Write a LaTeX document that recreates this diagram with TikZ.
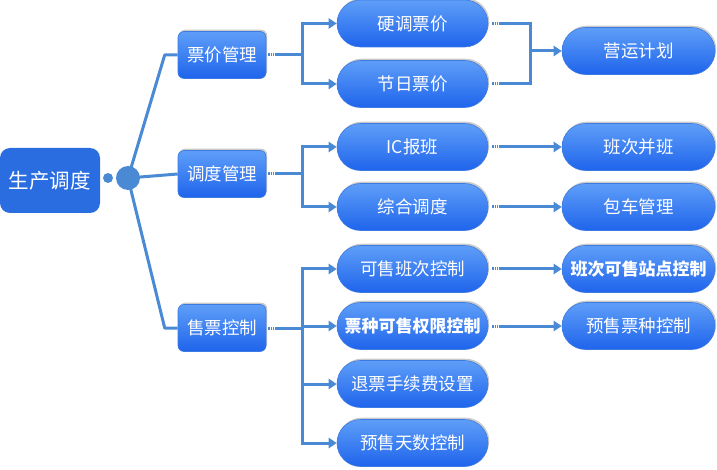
\documentclass[tikz,border=0pt]{standalone}
\usepackage{fontspec}
\newfontfamily\cjk{Noto Sans CJK SC}
\usetikzlibrary{shapes.misc,shadows,arrows.meta,calc}
\definecolor{lineblue}{HTML}{4A8AD4}
\definecolor{pilltop}{HTML}{5E9EF8}
\definecolor{pillbot}{HTML}{1F64EC}
\definecolor{pilledge}{HTML}{3C7BE0}
\definecolor{rootblue}{HTML}{2A6DE0}
\tikzset{
  boxshadow/.style={drop shadow={shadow xshift=1.2,shadow yshift=-1.8,opacity=0.35,fill=black!60}},
  pill/.style={rounded rectangle, minimum width=151, minimum height=47, inner sep=0,
    top color=pilltop, bottom color=pillbot, draw=pilledge, line width=0.6,
    text=white, font=\cjk\fontsize{17.5}{17.5}\selectfont, boxshadow},
  pillwide/.style={pill, minimum width=153},
  boldpill/.style={font=\cjk\bfseries\fontsize{17}{17}\selectfont},
  midbox/.style={rectangle, rounded corners=6, minimum width=88, minimum height=47, inner sep=0,
    top color=pilltop, bottom color=pillbot, draw=pilledge, line width=0.6,
    text=white, font=\cjk\fontsize{17.5}{17.5}\selectfont, boxshadow},
  rootbox/.style={rectangle, rounded corners=10, minimum width=100, minimum height=65, inner sep=0,
    fill=rootblue, text=white, font=\cjk\fontsize{20.5}{20.5}\selectfont},
  link/.style={draw=lineblue, line width=3},
  arrowlink/.style={link, -{Triangle[length=8,width=10]}},
  dotlink/.style={draw=lineblue, line width=3, dash pattern=on 1.2 off 1},
}
\begin{document}
\begin{tikzpicture}[x=1pt,y=-1pt]
\useasboundingbox (0,0) rectangle (717,470);

% root and hub
\node[rootbox] (root) at (50,180.5) {生产调度};
\fill[lineblue] (108,178) circle (5) coordinate (dot);
\node[circle, fill=lineblue, minimum size=24, inner sep=0] (hub) at (128,178) {};

% first level
\node[midbox] (p1) at (222,55) {票价管理};
\node[midbox] (p2) at (222,174) {调度管理};
\node[midbox] (p3) at (222,328) {售票控制};

% second level
\node[pill] (a1) at (412.5,23.5) {硬调票价};
\node[pill] (a2) at (412.5,84) {节日票价};
\node[pill] (b1) at (412.5,147) {IC报班};
\node[pill] (b2) at (412.5,207) {综合调度};
\node[pill] (c1) at (412.5,269) {可售班次控制};
\node[pill, boldpill] (c2) at (412.5,326) {票种可售权限控制};
\node[pill] (c3) at (412.5,384) {退票手续费设置};
\node[pill] (c4) at (412.5,443) {预售天数控制};

% third level
\node[pillwide] (d1) at (638.5,51) {营运计划};
\node[pillwide] (e1) at (638.5,147) {班次并班};
\node[pillwide] (e2) at (638.5,207) {包车管理};
\node[pillwide, boldpill] (f1) at (638.5,269) {班次可售站点控制};
\node[pillwide] (f2) at (638.5,326) {预售票种控制};

% hub branches
\draw[link, line join=round] (hub.center) -- ($(p1.west)+(-13,0)$) -- (p1.west);
\draw[link] (hub.center) -- (p2.west);
\draw[link, line join=round] (hub.center) -- ($(p3.west)+(-13,0)$) -- (p3.west);

% first level to second level
\foreach \src/\up/\down in {p1/a1/a2, p2/b1/b2} {
  \draw[dotlink] ($(\src.east)+(2,0)$) -- ($(\src.east)+(10,0)$);
  \draw[link] ($(\src.east)+(10,0)$) -- ($(\src.east)+(36,0)$);
  \draw[arrowlink] ($(\src.east)+(36,0)$) |- (\up.west);
  \draw[arrowlink] ($(\src.east)+(36,0)$) |- (\down.west);
}
\coordinate (trunk) at ($(p3.east)+(36,0)$);
\draw[dotlink] ($(p3.east)+(2,0)$) -- ($(p3.east)+(10,0)$);
\draw[link] ($(p3.east)+(10,0)$) -- (trunk);
\foreach \tgt in {c1,c2,c3,c4} {
  \draw[arrowlink] (trunk) |- (\tgt.west);
}

% merge into the plan node
\coordinate (mtop) at ($(a1.east)+(12,0)$);
\coordinate (mbot) at ($(a2.east)+(12,0)$);
\coordinate (mjoin) at ($(a1.east)+(42,0)$);
\draw[dotlink] ($(a1.east)+(4,0)$) -- (mtop);
\draw[dotlink] ($(a2.east)+(4,0)$) -- (mbot);
\draw[link, line join=miter] (mtop) -| (mjoin) |- (mbot);
\draw[arrowlink] (mjoin |- d1.west) -- (d1.west);

% second level to third level
\foreach \src/\tgt in {b1/e1, b2/e2, c1/f1, c2/f2} {
  \draw[dotlink] ($(\src.east)+(4,0)$) -- ($(\src.east)+(12,0)$);
  \draw[arrowlink] ($(\src.east)+(12,0)$) -- (\tgt.west);
}
\end{tikzpicture}
\end{document}
